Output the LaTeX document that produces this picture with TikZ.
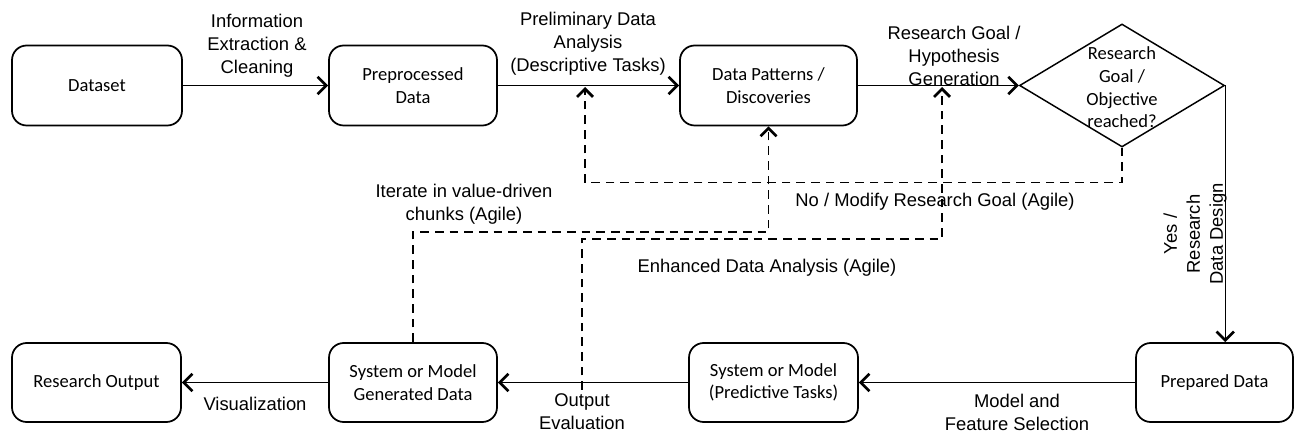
\documentclass[tikz,border=0pt]{standalone}
\usepackage{fontspec}
\setmainfont{Liberation Sans}
\newfontfamily\boxfont{Carlito}
\usetikzlibrary{arrows.meta,shapes.geometric}

\tikzset{
  procbox/.style={draw, line width=1.3pt, rounded corners=11pt, align=center,
    font=\boxfont\fontsize{13.9}{17}\selectfont, inner sep=2pt},
  decision/.style={draw, shape=diamond, line width=1.1pt, inner sep=0pt,
    minimum width=205*0.75pt, minimum height=123*0.75pt},
  decisiontext/.style={align=center, font=\boxfont\fontsize{13.9}{17}\selectfont, inner sep=0pt},
  edgetext/.style={align=center, inner sep=0pt, font=\fontsize{13.8}{17.25}\selectfont},
  flow/.style={line width=1.1pt, -{Straight Barb[length=6.5pt,width=13pt,line width=2pt]}},
  loop/.style={line width=1.1pt, dash pattern=on 6.5pt off 4.5pt,
    -{Straight Barb[length=6pt,width=12pt,line width=2pt]}}
}

\begin{document}
\begin{tikzpicture}[x=0.75pt,y=-0.75pt]
\useasboundingbox (0,0) rectangle (1296,434);

% top row
\node[procbox, minimum width=170*0.75pt, minimum height=80*0.75pt] (dataset) at (97,85.5) {Dataset};
\node[procbox, minimum width=168*0.75pt, minimum height=80*0.75pt] (prep) at (413,85.5) {Preprocessed\\Data};
\node[procbox, minimum width=177*0.75pt, minimum height=80*0.75pt] (patterns) at (768.5,85.5) {Data Patterns /\\Discoveries};
\node[decision, label={[decisiontext, yshift=-1.5pt]center:{Research\\Goal /\\Objective\\reached?}}] (goal) at (1122,85.5) {};

% bottom row
\node[procbox, minimum width=169*0.75pt, minimum height=79*0.75pt] (output) at (96.5,382.5) {Research Output};
\node[procbox, minimum width=168*0.75pt, minimum height=79*0.75pt] (generated) at (413,382.5) {System or Model\\Generated Data};
\node[procbox, minimum width=169*0.75pt, minimum height=79*0.75pt] (predictive) at (773.5,382.5) {System or Model\\(Predictive Tasks)};
\node[procbox, minimum width=157*0.75pt, minimum height=79*0.75pt] (prepared) at (1214.5,382.5) {Prepared Data};

% main flow
\draw[flow] (dataset) -- (prep);
\draw[flow] (prep) -- (patterns);
\draw[flow] (patterns) -- (goal.west);
\draw[flow] (goal.east) -- (goal.east |- prepared.north);
\draw[flow] (prepared) -- (predictive);
\draw[flow] (predictive) -- (generated);
\draw[flow] (generated) -- (output);

% feedback loops
\coordinate (pa) at (585,87);
\coordinate (hg) at (942,87);
\coordinate (oe) at (582,390);
\draw[loop] (goal.south) -- ++(0,35) -| (pa);
\draw[loop] (generated.north) -- ++(0,-110) -| (patterns.south);
\draw[loop] (oe) -- ++(0,-151) -| (hg);

% edge labels
\node[edgetext] (l1) at (257,46) {Information\\Extraction \&\\Cleaning};
\node[edgetext] (l2) at (588,44) {Preliminary Data\\Analysis\\(Descriptive Tasks)};
\node[edgetext] (l3) at (954,56) {Research Goal /\\Hypothesis\\Generation};
\node[edgetext] (l4) at (935,202) {No / Modify Research Goal (Agile)};
\node[edgetext] (l5) at (464,204) {Iterate in value-driven\\chunks (Agile)};
\node[edgetext] (l6) at (767,268) {Enhanced Data Analysis (Agile)};
\node[edgetext, rotate=90] (l7) at (1195,234) {Yes /\\Research\\Data Design};
\node[edgetext] (l8) at (1017,412) {Model and\\Feature Selection};
\node[edgetext] (l9) at (582,412) {Output\\Evaluation};
\node[edgetext] (l10) at (255,404) {Visualization};
\end{tikzpicture}
\end{document}
